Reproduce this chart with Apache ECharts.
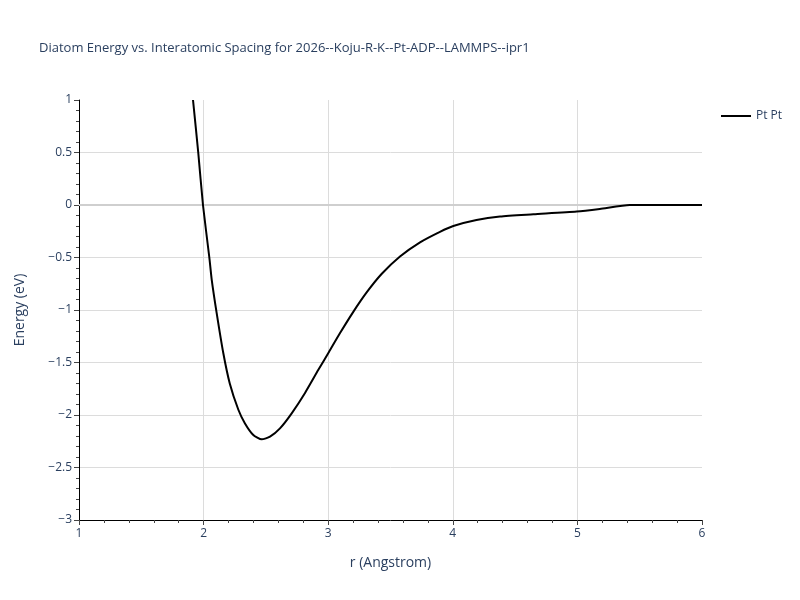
<!DOCTYPE html>
<html>
<head>
<meta charset="utf-8">
<script src="https://cdn.jsdelivr.net/npm/echarts@6/dist/echarts.min.js"></script>
<style>
  html, body { margin: 0; padding: 0; background: #fff; }
  #chart { width: 800px; height: 600px; }
</style>
</head>
<body>
<div id="chart"></div>
<script>
// spacing r (Angstrom)
const rValues = [1.915, 1.957, 1.995, 2.046, 2.065, 2.105, 2.158, 2.21, 2.279, 2.332, 2.399, 2.466,
  2.533, 2.613, 2.707, 2.814, 2.921, 3.006, 3.095, 3.2, 3.307, 3.43, 3.576, 3.737, 3.897, 4.004,
  4.19, 4.379, 4.646, 4.994, 5.18, 5.42, 6.0]
// energy (eV)
const energyValues = [1, 0.5, 0, -0.5, -0.71, -1.03, -1.41, -1.70, -1.95, -2.08, -2.19, -2.232,
  -2.206, -2.127, -1.984, -1.79, -1.57, -1.40, -1.22, -1.02, -0.835, -0.655, -0.49, -0.355, -0.255, -0.2,
  -0.143, -0.11, -0.089, -0.063, -0.038, 0, 0]
const seriesName = 'Pt Pt'
const titleText = 'Diatom Energy vs. Interatomic Spacing for 2026--Koju-R-K--Pt-ADP--LAMMPS--ipr1'

const textColor = '#2a3f5f'
const gridColor = '#dcdcdc'
const font = '"Open Sans", "DejaVu Sans", sans-serif'

const chart = echarts.init(document.getElementById('chart'))

const points = rValues.map((r, i) => [r, energyValues[i]])

const option = {
  animation: false,
  textStyle: { fontFamily: font },
  title: {
    text: titleText,
    left: 34,
    top: 37,
    textStyle: { fontSize: 13, fontWeight: 'normal', color: textColor, fontFamily: font }
  },
  legend: {
    left: 716,
    top: 105,
    itemWidth: 30,
    itemHeight: 2,
    icon: 'rect',
    textStyle: { color: textColor, fontSize: 12, fontFamily: font },
    data: [seriesName]
  },
  grid: {
    left: 79,
    right: 98,
    top: 100,
    bottom: 80
  },
  xAxis: {
    type: 'value',
    min: 1,
    max: 6,
    interval: 1,
    name: 'r (Angstrom)',
    nameLocation: 'middle',
    nameGap: 36,
    nameTextStyle: { color: textColor, fontSize: 14, fontFamily: font },
    axisLine: { show: true, onZero: false, lineStyle: { color: '#000', width: 1 } },
    axisTick: { show: true, length: 5, lineStyle: { color: '#444' } },
    minorTick: { show: true, splitNumber: 5, length: 3, lineStyle: { color: '#444' } },
    axisLabel: { color: textColor, fontSize: 12, margin: 8 },
    splitLine: { show: true, showMinLine: false, showMaxLine: false, lineStyle: { color: gridColor } }
  },
  yAxis: {
    type: 'value',
    min: -3,
    max: 1,
    interval: 0.5,
    name: 'Energy (eV)',
    nameLocation: 'middle',
    nameGap: 52,
    nameTextStyle: { color: textColor, fontSize: 14, fontFamily: font },
    axisLine: { show: true, onZero: false, lineStyle: { color: '#000', width: 1 } },
    axisTick: { show: true, length: 5, lineStyle: { color: '#444' } },
    minorTick: { show: true, splitNumber: 5, length: 3, lineStyle: { color: '#444' } },
    axisLabel: {
      color: textColor,
      fontSize: 12,
      margin: 7,
      formatter: (v) => String(v).replace('-', '\u2212')
    },
    splitLine: { show: true, showMinLine: false, showMaxLine: false, lineStyle: { color: gridColor } }
  },
  series: [
    {
      name: seriesName,
      type: 'line',
      data: points,
      showSymbol: false,
      smooth: 0.2,
      lineStyle: { color: '#000', width: 2 },
      itemStyle: { color: '#000' },
      markLine: {
        silent: true,
        symbol: 'none',
        label: { show: false },
        lineStyle: { color: '#cfcfcf', width: 2, type: 'solid' },
        data: [{ yAxis: 0 }],
        z: 1
      }
    }
  ]
}
chart.setOption(option)
</script>
</body>
</html>
